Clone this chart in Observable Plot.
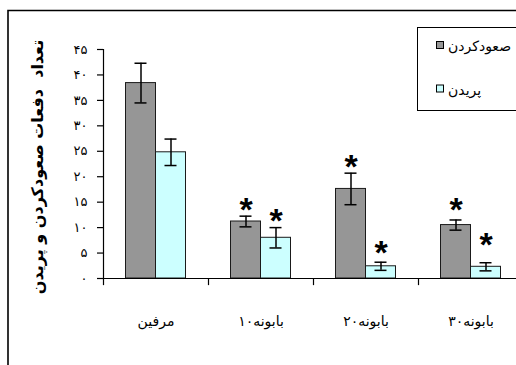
<!DOCTYPE html>
<html>
<head>
<meta charset="utf-8">
<script src="https://cdn.jsdelivr.net/npm/d3@7"></script>
<script src="https://cdn.jsdelivr.net/npm/@observablehq/plot@0.6"></script>
<style>
  html, body { margin: 0; padding: 0; background: #fff; overflow: hidden; }
  #chart svg { display: block; }
</style>
</head>
<body>
<div id="chart"></div>
<script>
// ---- data ----
const categories = ["مرفین", "بابونه۱۰", "بابونه۲۰", "بابونه۳۰"];
const seriesNames = ["صعودکردن", "پریدن"];
const climb = [38.4, 11.2, 17.6, 10.5];
const climbErr = [3.9, 1.05, 3.1, 1.0];
const jump = [24.8, 8.0, 2.4, 2.3];
const jumpErr = [2.6, 2.0, 0.8, 0.8];
const yTicks = [0, 5, 10, 15, 20, 25, 30, 35, 40, 45];
const yTitle = "تعداد  دفعات صعودکردن و پریدن";
// significance stars: category index, series index, star height (value units)
const starCat = [1, 1, 2, 2, 3, 3];
const starSeries = [0, 1, 0, 1, 0, 1];
const starY = [14.4, 12.3, 22.9, 6.0, 14.4, 7.6];

const colors = ["#969696", "#CCFFFF"];
const fa = (s) => String(s).replace(/\d/g, (d) => "۰۱۲۳۴۵۶۷۸۹"[d]);

const rows = categories.flatMap((c, i) => [
  {cat: c, s: 0, value: climb[i], err: climbErr[i]},
  {cat: c, s: 1, value: jump[i], err: jumpErr[i]}
]);
const stars = starCat.map((c, i) => ({cat: categories[c], s: starSeries[i], y: starY[i]}));

const W = 516, H = 365;
const off = [-15, 15];
const font = "'DejaVu Sans', sans-serif";

const marks = [];
for (const s of [0, 1]) {
  const d = rows.filter((r) => r.s === s);
  marks.push(
    Plot.barY(d, {
      x: "cat", y: "value", fill: colors[s], stroke: "#1a1a1a", strokeWidth: 1,
      insetLeft: 37.5 + off[s], insetRight: 37.5 - off[s]
    }),
    Plot.ruleX(d, {x: "cat", y1: (r) => r.value - r.err, y2: (r) => r.value + r.err, dx: off[s], stroke: "#000", strokeWidth: 1.5}),
    Plot.tickY(d, {x: "cat", y: (r) => r.value + r.err, dx: off[s], inset: 46.5, stroke: "#000", strokeWidth: 1.5}),
    Plot.tickY(d, {x: "cat", y: (r) => r.value - r.err, dx: off[s], inset: 46.5, stroke: "#000", strokeWidth: 1.5}),
    Plot.text(stars.filter((t) => t.s === s), {
      x: "cat", y: "y", text: () => "*", dx: off[s], dy: 5,
      fontSize: 34, fontWeight: "bold", fontFamily: "'Liberation Sans', Arial, sans-serif", fill: "#000"
    })
  );
}

const chart = Plot.plot({
  width: W,
  height: H,
  marginLeft: 103,
  marginRight: -7,
  marginTop: 49,
  marginBottom: 87,
  style: {fontFamily: font, background: "#fff", color: "#000"},
  x: {domain: categories, padding: 0, axis: null},
  y: {domain: [0, 45], axis: null},
  marks: [
    ...marks,
    Plot.ruleY([0], {stroke: "#000", strokeWidth: 1.2}),
    Plot.ruleX([categories[0]], {y1: 0, y2: 45, dx: -52.5, stroke: "#000", strokeWidth: 1.2}),
    Plot.ruleX(categories, {y1: 0, y2: -1.4, dx: -52.5, stroke: "#000", strokeWidth: 1.2}),
    Plot.axisY({ticks: yTicks, tickFormat: fa, tickSize: 6, tickPadding: 10, fontSize: 13, stroke: "#000", strokeWidth: 1.2, label: null}),
    Plot.axisX({tickSize: 0, tickPadding: 38, fontSize: 14, label: null}),
    Plot.text([yTitle], {frameAnchor: "left", textAnchor: "middle", rotate: -90, dx: -66, dy: 3, fontSize: 16, fontWeight: "bold"})
  ]
});

document.getElementById("chart").appendChild(chart);

// chart-area border and legend
const svg = d3.select(chart);
svg.append("path").attr("d", "M8,365V10.5H516").attr("fill", "none").attr("stroke", "#000").attr("stroke-width", 1.6);
const lg = svg.append("g");
lg.append("rect").attr("x", 417.5).attr("y", 27.5).attr("width", 120).attr("height", 83)
  .attr("fill", "#fff").attr("stroke", "#000").attr("stroke-width", 1);
seriesNames.forEach((name, i) => {
  const y = 41 + i * 43.5;
  lg.append("rect").attr("x", 436.5).attr("y", y + 0.5).attr("width", 7).attr("height", 7)
    .attr("fill", colors[i]).attr("stroke", "#000").attr("stroke-width", 1);
  const t = lg.append("text").attr("y", y + 10).attr("font-size", 14)
    .attr("font-family", font).attr("fill", "#000").attr("text-anchor", "middle").text(name);
  const len = t.node().getComputedTextLength();
  t.attr("x", 448 + len / 2);
});
</script>
</body>
</html>
